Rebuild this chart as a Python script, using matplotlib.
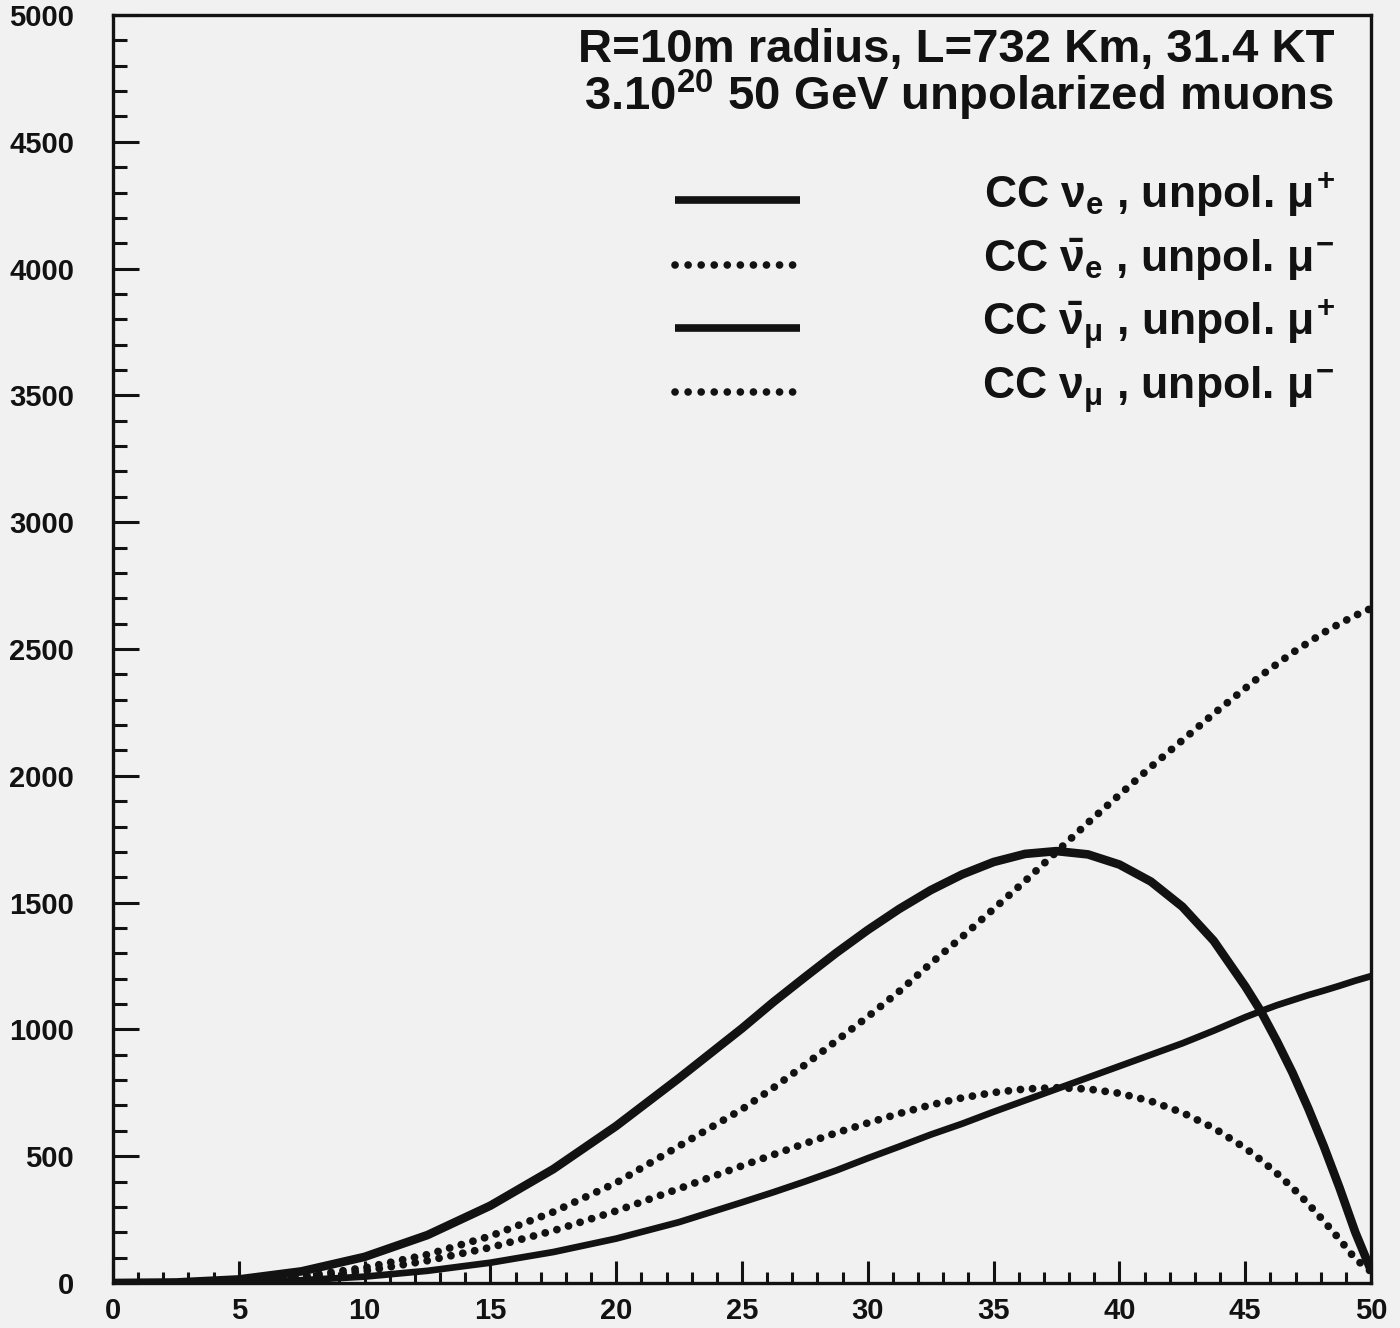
# module imports
import matplotlib.pyplot as plt
from matplotlib.ticker import MultipleLocator

# fonts
plt.rcParams["font.family"] = ["Liberation Sans", "DejaVu Sans"]
plt.rcParams["font.weight"] = "bold"
plt.rcParams["mathtext.fontset"] = "custom"
plt.rcParams["mathtext.rm"] = "Liberation Sans:bold"
plt.rcParams["mathtext.it"] = "Liberation Sans:bold"
plt.rcParams["mathtext.bf"] = "Liberation Sans:bold"

# energy bins (GeV)
energy = [0, 2.5, 5, 7.5, 10, 12.5, 15, 17.5, 20, 22.5, 25,
          26.25, 27.5, 28.75, 30, 31.25, 32.5, 33.75, 35, 36.25, 37.5,
          38.75, 40, 41.25, 42.5, 43.75, 45, 45.625, 46.25, 46.875,
          47.5, 48.125, 48.75, 49.375, 50]

# CC events per series
nue_mup = [0, 2, 14, 46, 103, 189, 305, 449, 619, 808, 1004,
           1108, 1206, 1302, 1392, 1475, 1549, 1611, 1660, 1692, 1703,
           1690, 1650, 1583, 1484, 1349, 1170, 1071, 955, 830,
           690, 539, 375, 200, 50]
nuebar_mum = [0, 1, 7, 21, 47, 88, 140, 206, 284, 372, 462,
              506, 550, 592, 631, 668, 702, 730, 751, 765, 770,
              765, 748, 717, 672, 611, 532, 485, 433, 376,
              313, 244, 172, 95, 45]
numubar_mup = [0, 0, 3, 11, 25, 48, 80, 122, 175, 240, 318,
               358, 400, 444, 492, 538, 585, 628, 675, 720, 765,
               810, 855, 900, 945, 995, 1048, 1072, 1095, 1115,
               1135, 1153, 1172, 1192, 1210]
numu_mum = [0, 1, 8, 26, 60, 112, 185, 280, 395, 540, 685,
            770, 860, 955, 1050, 1150, 1260, 1365, 1475, 1585, 1700,
            1815, 1925, 2035, 2140, 2245, 2345, 2395, 2440, 2485,
            2525, 2565, 2600, 2632, 2660]

# legend text
header = ["R=10m radius, L=732 Km, 31.4 KT",
          r"3.10$^{20}$ 50 GeV unpolarized muons"]
labels = [r"CC $\nu_e$ , unpol. $\mu^{+}$",
          r"CC $\bar{\nu}_e$ , unpol. $\mu^{-}$",
          r"CC $\bar{\nu}_\mu$ , unpol. $\mu^{+}$",
          r"CC $\nu_\mu$ , unpol. $\mu^{-}$"]

INK = "#121212"
PAPER = "#f1f1f1"
DOTS = (0, (0.01, 1.55))

# do script
if __name__ == "__main__":
    fig = plt.figure(figsize=(14, 13.28), dpi=100, facecolor=PAPER)
    ax = fig.add_axes([0.0807, 0.0339, 0.8986, 0.9548])
    ax.set_facecolor(PAPER)

    # curves: solid for mu+ beam, dotted for mu- beam
    series = [
        (nue_mup, "-", 6.2),
        (nuebar_mum, DOTS, 5.6),
        (numubar_mup, "-", 4.8),
        (numu_mum, DOTS, 5.6),
    ]
    for y, ls, lw in series:
        ax.plot(energy, y, color=INK, linestyle=ls, linewidth=lw,
                dash_capstyle="round", solid_capstyle="butt",
                solid_joinstyle="round")

    # axes
    ax.set_xlim(0, 50)
    ax.set_ylim(0, 5000)
    ax.xaxis.set_major_locator(MultipleLocator(5))
    ax.xaxis.set_minor_locator(MultipleLocator(1))
    ax.yaxis.set_major_locator(MultipleLocator(500))
    ax.yaxis.set_minor_locator(MultipleLocator(100))
    ax.tick_params(axis="both", which="both", direction="in", width=2.2,
                   color=INK, labelcolor=INK, labelsize=21)
    ax.tick_params(axis="x", which="major", length=16, pad=10)
    ax.tick_params(axis="x", which="minor", length=8)
    ax.tick_params(axis="y", which="major", length=19, pad=28)
    ax.tick_params(axis="y", which="minor", length=10)
    for s in ax.spines.values():
        s.set_linewidth(2.4)
        s.set_color(INK)
    for lab in ax.get_xticklabels() + ax.get_yticklabels():
        lab.set_fontweight("bold")

    # header lines
    ax.text(0.971, 0.963, header[0], transform=ax.transAxes, ha="right",
            va="baseline", fontsize=34, fontweight="bold", color=INK)
    ax.text(0.971, 0.925, header[1], transform=ax.transAxes, ha="right",
            va="baseline", fontsize=34, fontweight="bold", color=INK)

    # legend samples and labels
    rows = [0.854, 0.803, 0.753, 0.703]
    styles = ["-", (0, (0.01, 1.7)), "-", (0, (0.01, 1.7))]
    for yy, ls, lab in zip(rows, styles, labels):
        ax.plot([0.447, 0.546], [yy, yy], transform=ax.transAxes,
                color=INK, linestyle=ls, linewidth=5.5,
                dash_capstyle="round", solid_capstyle="butt")
        ax.text(0.971, yy - 0.006, lab, transform=ax.transAxes, ha="right",
                va="baseline", fontsize=32, fontweight="bold", color=INK)

    plt.savefig("out.png", dpi=100, facecolor=PAPER)
